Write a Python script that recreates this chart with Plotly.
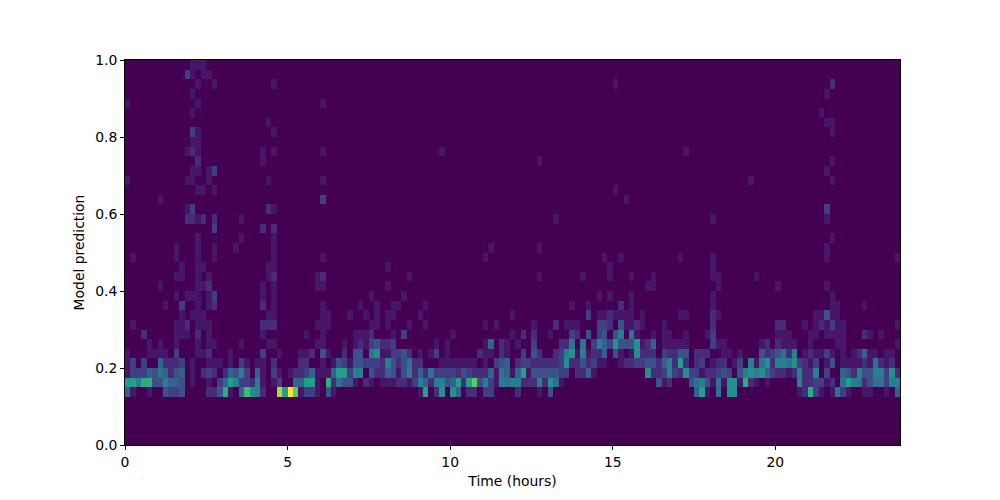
import plotly.graph_objects as go

# Sparse counts per y-bin (bin width 0.025). Each row: four dicts, for columns 0-35, 36-71, 72-107, 108-143 (offset within block).
r05 = [{0:5,1:1,4:1,7:4,8:3,9:3,10:4,15:2,16:2,17:4,18:10,19:1,21:5,22:11,23:8,24:7,25:2,28:14,29:9,30:16,31:12,32:1,33:3,34:3,35:1},
       {1:4,2:1,18:1,19:9,21:2,22:8,24:8,25:5,27:2,28:2,30:3,31:3},
       {0:2,4:1,6:4,33:5,34:9,35:1},
       {1:6,3:8,4:8,16:1,17:2,18:10,19:3,20:1,22:1,23:6,24:3,25:1,28:1,29:1,32:1,34:5}]
r06 = [{0:9,1:9,2:7,3:10,4:10,5:4,6:4,7:7,8:5,9:5,10:4,12:1,15:1,17:3,18:5,19:9,20:7,21:3,22:3,23:2,24:7,25:1,27:1,28:3,31:5,32:5,33:9,34:9,35:1},
       {1:10,2:2,3:6,4:4,5:4,6:1,8:2,9:1,11:1,12:1,13:1,14:2,15:2,16:1,17:3,18:7,19:5,20:2,21:7,22:7,23:4,24:5,25:9,26:2,27:9,28:12,29:4,30:7,31:3,32:1,33:7,34:6,35:7},
       {0:7,1:2,2:2,3:2,4:7,5:2,6:8,7:6,8:1,26:4,27:1,28:2,32:4,33:6,34:7,35:4},
       {0:1,1:6,2:1,3:8,4:8,5:1,6:10,7:2,8:1,10:1,16:7,17:2,18:2,19:3,20:3,21:1,22:2,24:6,25:9,26:7,27:6,28:2,29:4,30:6,31:6,32:3,33:7,34:7}]
r07 = [{0:1,1:3,2:3,3:3,4:5,5:4,6:6,7:5,8:2,9:4,10:5,12:1,14:2,15:3,16:2,18:2,19:5,20:4,21:7,22:3,24:5,25:1,27:3,28:1,30:1,31:2,32:2,33:3,34:5,35:1},
       {0:1,1:1,2:5,3:9,4:9,5:3,6:7,7:7,9:4,10:2,11:2,12:5,13:4,14:1,15:4,16:7,17:2,18:5,19:2,20:6,21:3,22:3,23:3,24:3,25:2,26:4,27:3,28:2,29:2,30:2,31:5,32:1,33:6,34:5,35:1},
       {0:5,1:9,2:1,3:4,4:4,5:4,6:4,7:4,8:3,9:3,11:2,12:2,13:5,14:1,24:8,25:2,26:2,27:3,28:7,29:3,30:2,31:8,32:3,33:3,34:1,35:2},
       {0:2,1:3,2:4,3:3,5:4,6:7,7:8,8:7,9:8,10:5,11:3,12:2,13:2,14:1,15:2,16:7,17:2,18:2,19:7,21:3,24:5,25:4,26:2,27:7,28:4,29:4,30:7,31:7,32:3,33:8,34:2}]
r08 = [{0:1,1:3,3:3,6:5,7:2,8:2,9:2,10:3,12:1,15:1,16:1,17:1,19:1,21:3,22:1,24:1,25:1,27:2,32:2,33:2},
       {0:1,2:1,3:4,4:3,5:1,6:4,7:4,8:3,9:3,10:3,11:2,12:7,13:4,14:2,15:4,16:6,17:2,18:2,22:1,23:1,24:1,25:1,26:1,27:1,28:1,30:1,32:3,33:4,34:5},
       {0:2,1:3,2:3,3:2,4:2,5:2,6:2,7:2,8:3,9:8,10:2,11:2,12:4,13:2,14:3,15:1,16:1,19:1,20:2,21:2,22:3,23:3,24:4,25:4,26:2,27:5,28:7,29:2,30:9,31:2,33:2,34:3},
       {0:1,1:2,2:2,4:1,5:3,7:7,8:1,9:6,10:8,11:2,12:7,13:7,14:6,15:8,16:3,17:2,18:1,19:3,21:1,22:4,24:1,25:1,26:1,27:1,28:2,29:1,30:6,31:2,32:1,33:2}]
r09 = [{0:1,4:1,5:1,6:1,7:1,9:3,13:1,14:1,15:2,19:1,25:3,28:1,32:1,33:1,34:2},
       {0:4,1:1,4:2,6:4,7:4,9:6,10:8,11:1,12:1,13:3,14:3,15:4,16:2,18:1,20:1,21:3,23:1,29:2,30:1,31:1,33:2,34:1},
       {1:3,3:4,4:2,7:2,8:3,9:7,10:8,11:1,12:7,13:1,14:2,15:2,16:5,18:4,19:1,21:1,22:8,23:2,24:2,25:2,27:3,28:2,29:2,30:4,31:4,33:2,34:2,35:2},
       {2:1,3:1,5:1,9:4,10:2,11:3,12:4,13:6,14:2,15:7,17:1,18:2,19:1,20:1,21:3,22:1,24:1,26:1,27:2,28:5,29:1,30:1,32:1,33:1}]
r10 = [{4:1,6:1,9:1,13:1,15:1,16:1,21:1,26:1,27:1,35:1},
       {0:1,4:1,6:1,7:2,8:1,9:3,10:4,11:2,12:2,13:3,21:1,23:1,30:1,31:5,33:2,34:1},
       {0:1,3:3,8:2,9:2,10:6,12:6,14:3,15:7,16:5,17:3,18:8,19:4,20:4,21:4,22:8,23:1,24:2,25:5,27:1,28:1,29:1,30:1,31:1},
       {0:3,1:1,2:1,9:1,10:2,12:2,13:1,14:1,15:1,18:1,23:1,24:1,34:1}]
r11 = [{3:2,9:1,10:1,11:1,13:2,15:1,25:1,33:1},
       {0:1,6:1,7:1,8:1,9:2,13:1,15:3,24:1,35:1},
       {1:2,3:2,6:1,10:3,11:2,13:4,15:3,16:4,18:4,19:7,21:6,22:1,25:1,27:1,28:1,31:1,35:1},
       {0:3,12:1,13:1,14:1,18:1,19:1,21:1,22:1,23:1,24:1,28:2,29:1,31:1}]
r12 = [{1:1,9:1,10:1,11:2,13:1,14:1,15:1,25:2,26:2,27:2,35:1},
       {0:1,1:1,9:1,10:1,12:1,16:1,19:1,30:1,32:1},
       {3:1,7:2,9:1,10:1,11:1,15:3,16:3,17:2,19:4,20:1,21:1,22:2,23:1,27:1},
       {0:2,12:2,13:2,17:1,19:1,20:2,21:1,22:3,23:1,24:1,34:1}]
r13 = [{10:1,12:1,13:1,14:1,26:1,27:1},
       {0:1,1:1,5:1,8:1,10:1,12:1,13:1,18:1,35:1},
       {13:3,15:1,16:1,17:2,18:1,19:1,20:1,21:1,23:1,30:1,31:1},
       {0:2,1:1,19:1,20:1,21:4,22:1,23:1}]
r14 = [{7:1,10:3,13:1,15:1,16:2,25:2,27:1},
       {0:1,7:1,10:1,13:1,14:1,19:1},
       {10:1,13:1,19:2,21:1},
       {0:1,22:1,23:1,28:1}]
r15 = [{9:1,11:1,12:1,13:1,15:1,16:3,25:1,27:1}, {9:1,15:1}, {15:1,17:1,21:1}, {0:1,22:1}]
r16 = [{6:1,13:1,14:1,15:2,25:1,27:1,35:1}, {0:1,12:1}, {24:1,25:1}, {1:1,12:1,21:1}]
r17 = [{9:1,10:1,13:1,15:1,26:1,27:2,35:1}, {0:2,16:1}, {4:1,12:1,17:1,21:1,25:1}, {0:1,1:1,8:1}]
r18 = [{10:1,13:1,14:1,26:1,27:1}, {12:1}, {17:1}, {0:1}]
r19 = [{1:1,9:1,13:1,16:1,27:1}, {0:1,30:1}, {16:1,19:1,30:1}, {0:1,21:1,34:1}]
r20 = [{9:1,13:1,16:1,20:1,27:1}, {31:1}, {4:1}, {21:1}]
r21 = [{13:1,21:1,27:1}, {}, {}, {22:1}]
r22 = [{16:3,25:2,27:2}, {}, {}, {}]
r23 = [{11:2,12:2,13:1,14:2,16:2,21:1}, {}, {7:1}, {0:1,21:1}]
r24 = [{11:1,12:3,26:2,27:1}, {}, {}, {21:3}]
r25 = [{6:1}, {0:3}, {20:1}, {}]
r26 = [{13:1,14:1,16:1}, {}, {18:1}, {}]
r27 = [{0:1,11:1,12:1,15:1,26:1}, {0:1}, {}, {7:1,22:1}]
r28 = [{12:1,13:1,15:1,16:3}, {}, {}, {21:1}]
r29 = [{13:2,25:1}, {}, {4:1}, {22:1}]
r30 = [{11:1,12:2,13:1,25:1,27:1}, {0:1,22:1}, {31:1}, {}]
r31 = [{12:1,13:1}, {}, {}, {}]
r32 = [{12:3,13:1,27:1}, {}, {}, {22:1}]
r33 = [{26:1}, {}, {}, {21:1,22:1}]
r34 = [{12:1}, {}, {}, {20:1}]
r35 = [{0:1,13:1}, {0:1}, {}, {}]
r36 = [{12:1}, {}, {}, {21:1}]
r37 = [{13:1,16:1,27:1}, {}, {18:1}, {22:2}]
r38 = [{11:3,12:1,14:1,15:1}, {}, {}, {}]
r39 = [{12:1,13:1,14:1}, {}, {}, {}]

sparse_rows = {5:r05,6:r06,7:r07,8:r08,9:r09,10:r10,11:r11,12:r12,13:r13,14:r14,15:r15,16:r16,17:r17,18:r18,19:r19,
               20:r20,21:r21,22:r22,23:r23,24:r24,25:r25,26:r26,27:r27,28:r28,29:r29,30:r30,31:r31,32:r32,33:r33,34:r34,
               35:r35,36:r36,37:r37,38:r38,39:r39}

n_cols, n_rows = 143, 40
z = [[0] * n_cols for _ in range(n_rows)]
for row, blocks in sparse_rows.items():
    for b, block in enumerate(blocks):
        for k, v in block.items():
            if 36 * b + k < n_cols:
                z[row][36 * b + k] = v

x_ticks = [0, 5, 10, 15, 20]
y_ticks = [0, 0.2, 0.4, 0.6, 0.8, 1.0]

font_px = 13.9
fig = go.Figure(go.Heatmap(z=z, x0=1/12, dx=1/6, y0=0.0125, dy=0.025, zmin=0, zmax=16,
                           colorscale="Viridis", showscale=False))
axis = dict(showline=True, linecolor="black", linewidth=1, mirror=True, ticks="outside", ticklen=4,
            tickcolor="black", tickwidth=1, showgrid=False, zeroline=False,
            tickfont=dict(family="DejaVu Sans", size=font_px, color="black"))
title_font = dict(family="DejaVu Sans", size=font_px, color="black")
fig.update_xaxes(range=[0, n_cols / 6], tickvals=x_ticks, ticktext=[str(t) for t in x_ticks],
                 title=dict(text="Time (hours)", standoff=7, font=title_font), **axis)
fig.update_yaxes(range=[0, 1], tickvals=y_ticks, ticktext=[f"{t:.1f}" for t in y_ticks],
                 title=dict(text="Model prediction", standoff=7, font=title_font), **axis)
fig.update_layout(template="none", width=1000, height=500, margin=dict(l=125, r=100, t=60, b=55),
                  paper_bgcolor="white", plot_bgcolor="white",
                  font=dict(family="DejaVu Sans", size=font_px, color="black"))
fig.write_html("out.html", config={"displayModeBar": False}, post_script="document.body.style.margin='0';")
